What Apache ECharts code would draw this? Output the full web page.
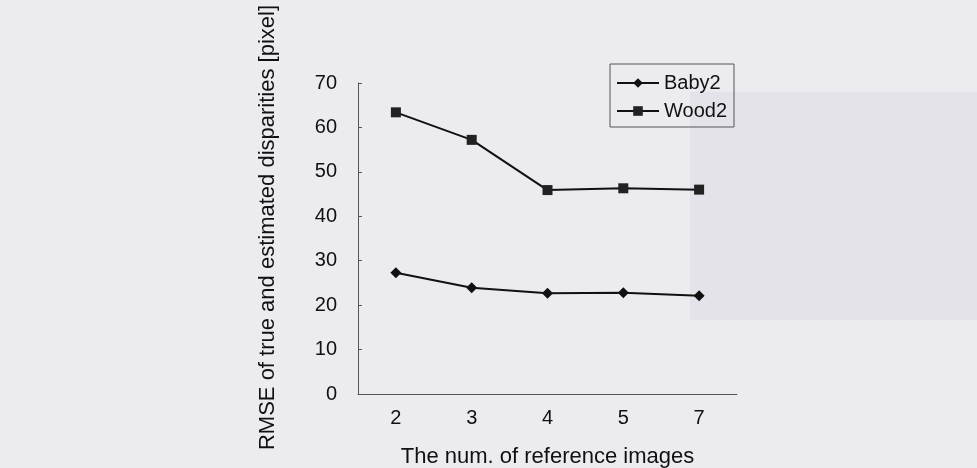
<!DOCTYPE html>
<html><head><meta charset="utf-8">
<script src="https://cdn.jsdelivr.net/npm/echarts@6/dist/echarts.min.js"></script>
<style>html,body{margin:0;padding:0;background:#ecebf0;}#c{width:977px;height:468px;}</style>
</head><body><div id="c"></div>
<script>
const categories = ['2', '3', '4', '5', '7'];
const baby2 = [27.3, 23.9, 22.7, 22.8, 22.1];
const wood2 = [63.4, 57.2, 45.9, 46.3, 46.0];
const yTicks = [0, 10, 20, 30, 40, 50, 60, 70];

const chart = echarts.init(document.getElementById('c'));
const font = 'Liberation Sans, Arial, sans-serif';
chart.setOption({
  backgroundColor: '#ecebf0',
  animation: false,
  graphic: [
    {type: 'rect', shape: {x: 690, y: 92, width: 287, height: 228}, style: {fill: '#e4e3e9'}, z: -10, silent: true}
  ],
  grid: {left: 358, top: 83, right: 240, bottom: 74, containLabel: false, outerBoundsMode: 'none'},
  legend: {
    data: ['Baby2', 'Wood2'],
    orient: 'vertical',
    left: 610, top: 64,
    itemWidth: 42, itemHeight: 12, itemGap: 8,
    padding: [9, 7, 6, 6],
    borderColor: '#555', borderWidth: 1,
    textStyle: {fontFamily: font, fontSize: 20, color: '#111'}
  },
  xAxis: {
    type: 'category', data: categories, boundaryGap: true,
    name: 'The num. of reference images', nameLocation: 'middle', nameGap: 52,
    nameTextStyle: {fontFamily: font, fontSize: 22, color: '#111'},
    axisLine: {lineStyle: {color: '#555', width: 1}},
    axisTick: {inside: true, length: 4, lineStyle: {color: '#555'}},
    axisLabel: {fontFamily: font, fontSize: 20, color: '#111', margin: 14}
  },
  yAxis: {
    type: 'value', min: yTicks[0], max: yTicks[yTicks.length - 1], interval: 10,
    name: 'RMSE of true and estimated disparities [pixel]', nameLocation: 'middle', nameGap: 79,
    nameTextStyle: {fontFamily: font, fontSize: 22, color: '#111', padding: [0, 0, 0, 22]},
    axisLine: {show: true, lineStyle: {color: '#555', width: 1}},
    axisTick: {show: true, inside: true, length: 4, lineStyle: {color: '#555'}},
    splitLine: {show: false},
    axisLabel: {fontFamily: font, fontSize: 20, color: '#111', margin: 21}
  },
  series: [
    {name: 'Baby2', type: 'line', data: baby2, symbol: 'diamond', symbolSize: 11,
     lineStyle: {color: '#111', width: 2}, itemStyle: {color: '#111'}},
    {name: 'Wood2', type: 'line', data: wood2, symbol: 'rect', symbolSize: 10,
     lineStyle: {color: '#111', width: 2}, itemStyle: {color: '#222'}}
  ]
});
</script></body></html>
